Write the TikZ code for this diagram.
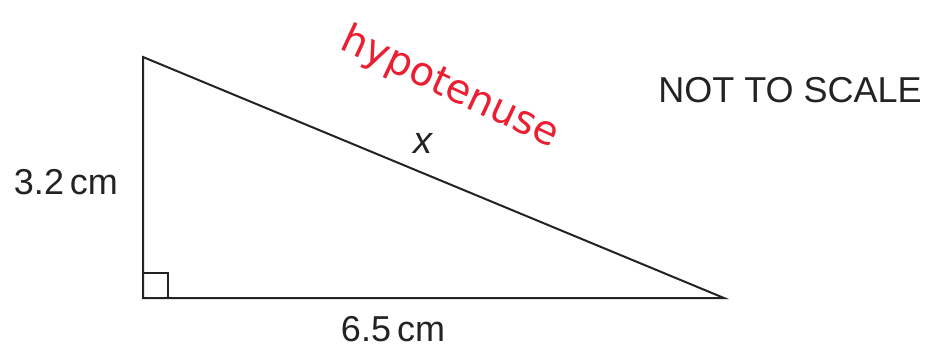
\documentclass[tikz,border=0pt]{standalone}
\usepackage{fontspec}
\setmainfont{Liberation Sans}
\newfontfamily\handfont{DejaVu Sans}
\definecolor{penred}{RGB}{235,30,50}
\definecolor{ink}{RGB}{35,35,35}
\begin{document}
\begin{tikzpicture}[x=1pt,y=-1pt,
  edge/.style={draw=ink,line width=2pt,line join=miter},
  lbl/.style={text=ink,font=\fontsize{36}{40}\selectfont,inner sep=0pt},
  hand/.style={text=penred,font=\handfont\fontsize{40}{44}\selectfont,inner sep=0pt}]
\useasboundingbox (0,0) rectangle (940,351);
\coordinate (A) at (143,57);
\coordinate (B) at (143,298);
\coordinate (C) at (724,298);
\draw[edge] (A) -- (B) -- (C) -- cycle;
\draw[draw=ink,line width=1.5pt] (143,273) -- (168,273) -- (168,298);
\node[lbl] (h) at (66,182) {3.2\,cm};
\node[lbl] (b) at (393,329) {6.5\,cm};
\node[lbl,font=\fontsize{38}{40}\selectfont\itshape] (x) at (423,143) {x};
\node[lbl] (n) at (790,90) {NOT TO SCALE};
\node[hand,rotate=-25] (hy) at (450,88) {hypotenuse};
\end{tikzpicture}
\end{document}
